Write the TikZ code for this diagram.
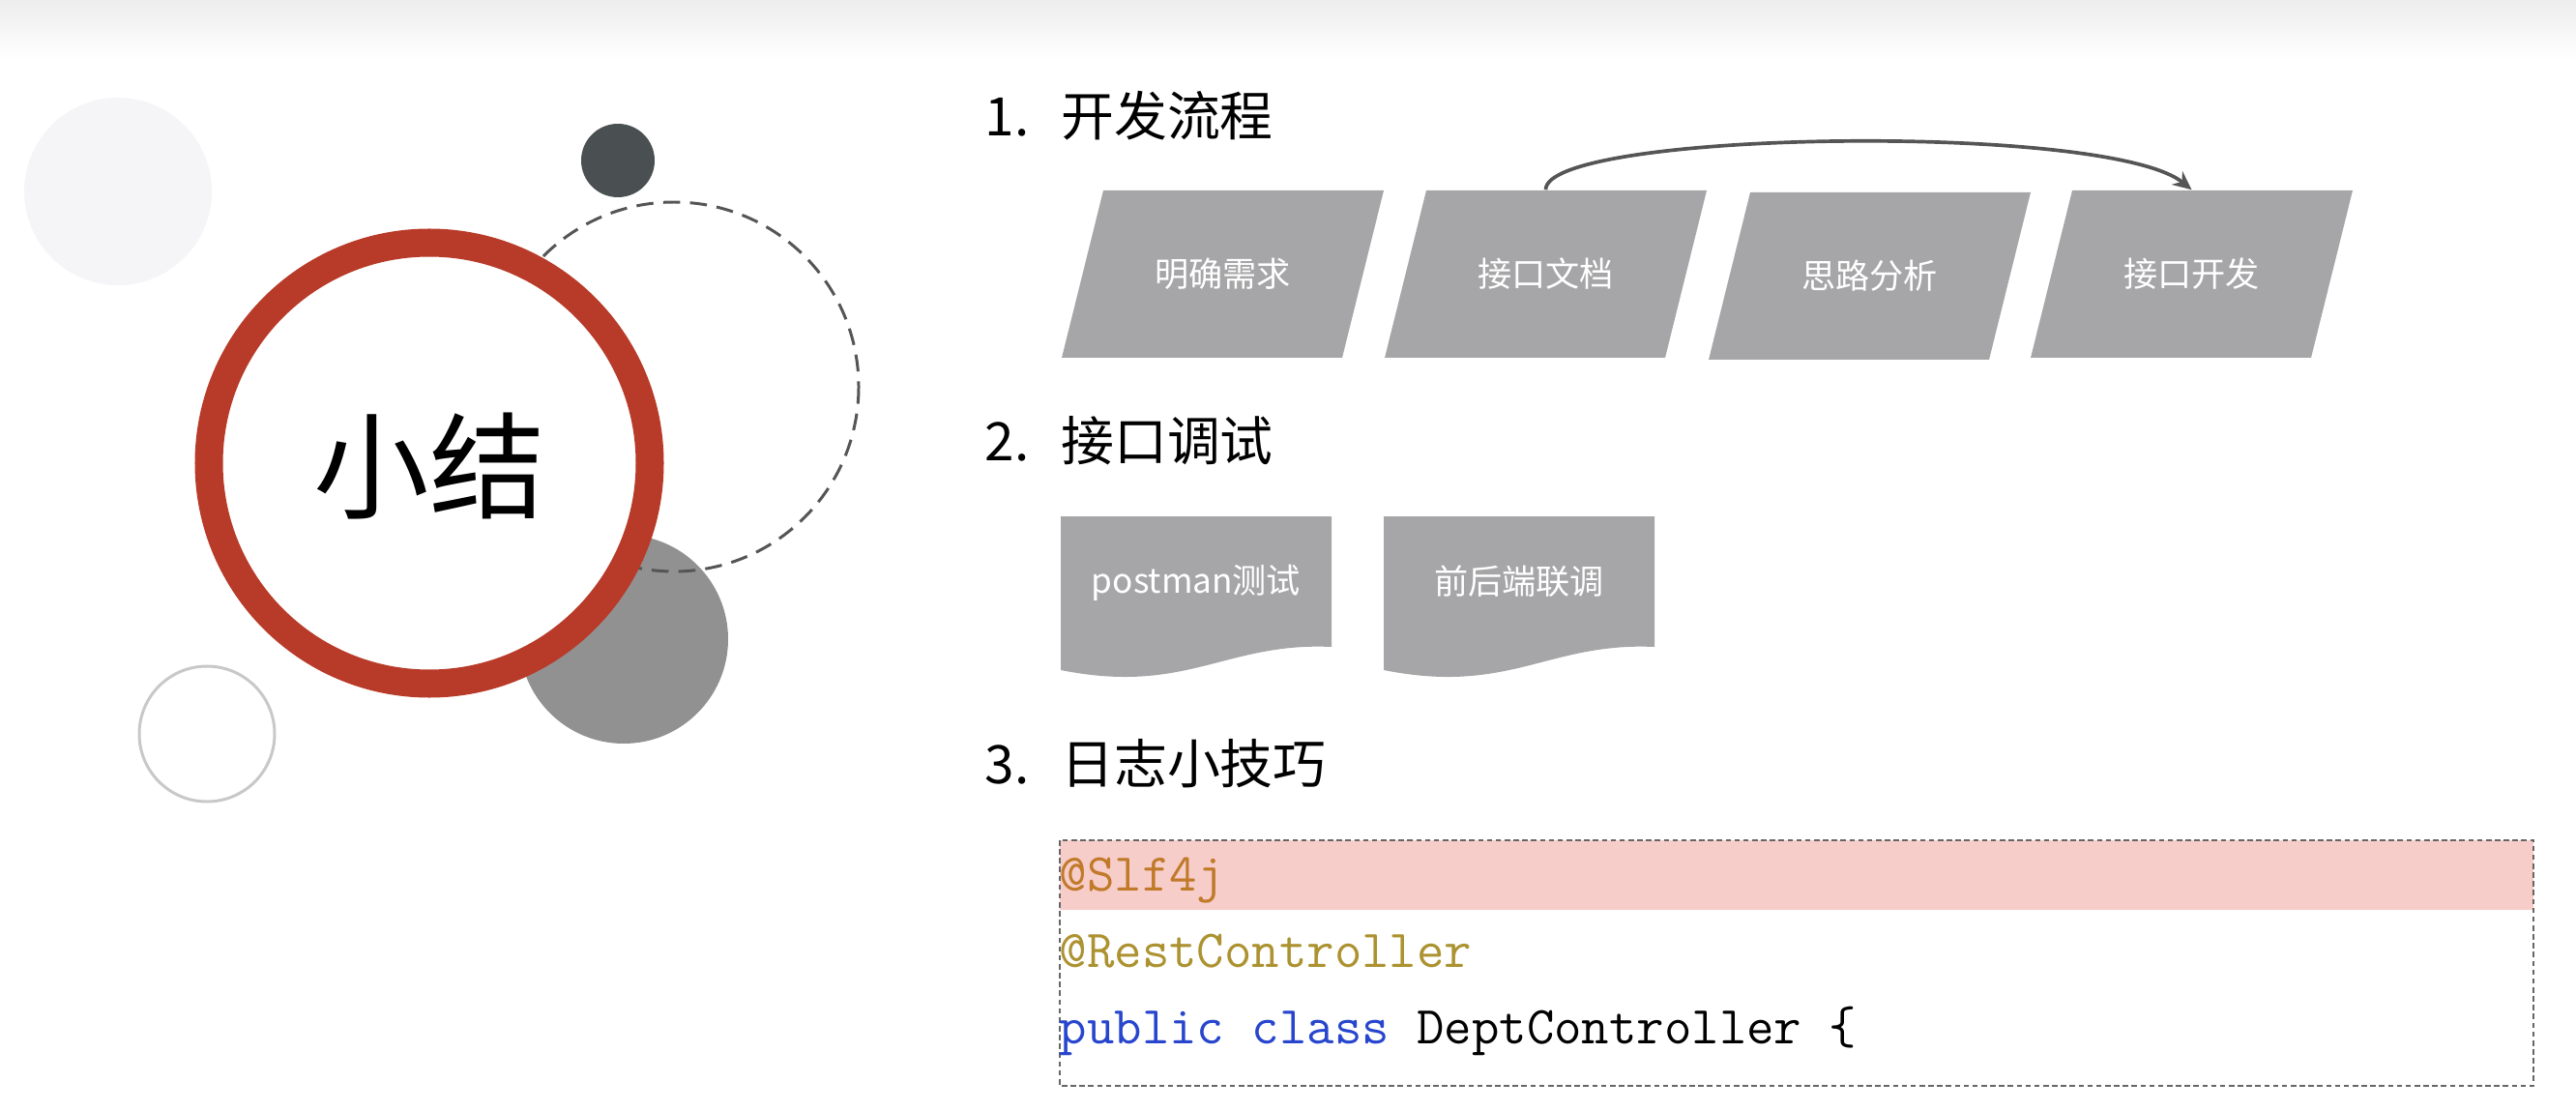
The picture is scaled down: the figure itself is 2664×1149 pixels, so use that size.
\documentclass[tikz,border=0pt]{standalone}
\usepackage{fontspec}
\setmainfont{Noto Sans CJK SC}
\usetikzlibrary{arrows.meta,calc}
\definecolor{pgray}{RGB}{166,166,168}
\definecolor{ringred}{RGB}{184,58,40}
\definecolor{darkc}{RGB}{74,79,82}
\definecolor{midgray}{RGB}{145,145,145}
\definecolor{lightc}{RGB}{245,244,247}
\definecolor{outlinec}{RGB}{200,200,200}
\definecolor{pinkc}{RGB}{247,205,202}
\definecolor{annorange}{RGB}{192,122,42}
\definecolor{annolive}{RGB}{172,146,48}
\definecolor{kwblue}{RGB}{40,70,205}
\definecolor{arrowc}{RGB}{85,85,85}
\newcommand{\plgfill}[2]{\fill[pgray, shift={(#1,#2)}] (43,0) -- (333,0) -- (290,173) -- (0,173) -- cycle;}
\newcommand{\docfill}[2]{\fill[pgray, shift={(#1,#2)}] (0,0) -- (280,0) -- (280,135) .. controls (170,130) and (130,185) .. (0,159) -- cycle;}
\begin{document}
\begin{tikzpicture}[x=0.01cm,y=-0.01cm,
  plgram/.style={minimum width=3.33cm, minimum height=1.73cm, inner sep=0pt,
    text=white, font=\fontsize{10}{12}\selectfont},
  lbl/.style={text=white, inner sep=0pt, font=\fontsize{10}{12}\selectfont},
  head/.style={anchor=west, inner sep=0pt, font=\fontsize{15.6}{18}\selectfont},
  codeline/.style={anchor=base west, inner sep=0pt, font=\ttfamily\fontsize{15.7}{18}\selectfont},
  arrowline/.style={draw=arrowc, line width=1.05pt, -{Stealth[length=5.5pt,width=5pt]}}
]
\useasboundingbox (0,0) rectangle (2664,1149);
% top band
\shade[top color=black!7, bottom color=white] (0,0) rectangle (2664,62);

% left decorative circles
\fill[lightc] (122,198) circle[radius=97];
\fill[darkc] (639,166) circle[radius=38];
\draw[outlinec, line width=0.85pt] (214,759) circle[radius=70];
\fill[midgray] (645,661) circle[radius=108];
\draw[arrowc, line width=0.85pt, dash pattern=on 5pt off 2.9pt] (697,400) circle[radius=191];
\filldraw[fill=white, draw=ringred, line width=8.25pt] (444,479) circle[radius=228];
\node[inner sep=0pt, font=\fontsize{34}{40}\selectfont] (title) at (444,482) {小结};

% section 1
\node[head] (h1) at (1018,120) {1.\hspace{0.33cm}开发流程};
\plgfill{1098}{197}
\plgfill{1432}{197}
\plgfill{1767}{199}
\plgfill{2100}{197}
\node[plgram] (s1) at (1264.5,283.5) {明确需求};
\node[plgram] (s2) at (1598.5,283.5) {接口文档};
\node[plgram] (s3) at (1933.5,285.5) {思路分析};
\node[plgram] (s4) at (2266.5,283.5) {接口开发};
\draw[arrowline] (s2.north) .. controls (1598,135) and (2180,126) .. (s4.north);

% section 2
\node[head] (h2) at (1018,456) {2.\hspace{0.33cm}接口调试};
\docfill{1097}{534}
\docfill{1431}{534}
\node[lbl] (d1t) at (1237,603) {postman测试};
\node[lbl] (d2t) at (1571,601) {前后端联调};

% section 3
\node[head] (h3) at (1018,790) {3.\hspace{0.33cm}日志小技巧};
\fill[pinkc] (1096,869) rectangle (2620,941);
\draw[black!60, line width=0.45pt, dash pattern=on 1.6pt off 1pt] (1096,869) rectangle (2620,1123);
\node[codeline, text=annorange] (c1) at (1095,921) {@Slf4j};
\node[codeline, text=annolive] (c2) at (1095,1000) {@RestController};
\node[codeline] (c3) at (1095,1079) {\textcolor{kwblue}{public class} DeptController \{};
\end{tikzpicture}
\end{document}
